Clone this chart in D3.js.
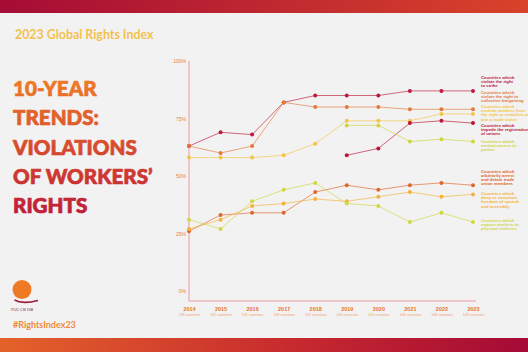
<!DOCTYPE html>
<html><head><meta charset="utf-8">
<script src="https://cdn.jsdelivr.net/npm/d3@7"></script>
<style>
html,body{margin:0;padding:0;background:#f2f2f2;}
svg{display:block;}
</style></head>
<body>
<svg id="c" width="528" height="352"></svg>
<script>
const years = [2014,2015,2016,2017,2018,2019,2020,2021,2022,2023];
const countryCounts = ["139 countries","141 countries","141 countries","139 countries","142 countries","145 countries","144 countries","149 countries","148 countries","149 countries"];
const yTicks = [0,25,50,75,100];

const strike      = [63,69,68,82,85,85,85,87,87,87];
const bargaining  = [63,60,63,82,80,80,80,79,79,79];
const exclude     = [58,58,58,59,64,74,74,74,77,77];
const registration= [null,null,null,null,null,59,62,73,74,73];
const justice     = [null,null,null,null,null,72,72,65,66,65];
const arrest      = [26,33,34,34,43,46,44,46,47,46];
const speech      = [27,31,37,38,40,39,41,43,41,42];
const violence    = [31,27,39,44,47,38,37,30,34,30];

const seriesNames = ["strike","bargaining","exclude","registration","justice","arrest","speech","violence"];
const seriesValues = [strike,bargaining,exclude,registration,justice,arrest,speech,violence];
const seriesColors = ["#be1a3e","#e4793a","#f4c447","#bb1638","#cdd63c","#e1662c","#f4b23a","#d0d840"];
const legendLabels = [
  ["Countries which","violate the right","to strike"],
  ["Countries which","violate the right to","collective bargaining"],
  ["Countries which","exclude workers from","the right to establish or","join a trade union"],
  ["Countries which","impede the registration","of unions"],
  ["Countries which","restrict access to","justice"],
  ["Countries which","arbitrarily arrest","and detain trade","union members"],
  ["Countries which","deny or constrain","freedom of speech","and assembly"],
  ["Countries which","expose workers to","physical violence"]
];
const legendTop = [79,93.5,108,127,142.5,172.5,195,221.5];

const svg = d3.select("#c");
const defs = svg.append("defs");
const g1 = defs.append("linearGradient").attr("id","topbar");
g1.append("stop").attr("offset","0%").attr("stop-color","#a50c36");
g1.append("stop").attr("offset","100%").attr("stop-color","#d8432a");
const g2 = defs.append("linearGradient").attr("id","botbar");
g2.append("stop").attr("offset","0%").attr("stop-color","#e4622a");
g2.append("stop").attr("offset","55%").attr("stop-color","#c72a2e");
g2.append("stop").attr("offset","100%").attr("stop-color","#a50a36");
const g3 = defs.append("linearGradient").attr("id","title")
  .attr("gradientUnits","userSpaceOnUse").attr("x1",0).attr("y1",80).attr("x2",0).attr("y2",215);
g3.append("stop").attr("offset","0%").attr("stop-color","#ee7a26");
g3.append("stop").attr("offset","100%").attr("stop-color","#bf1c36");

svg.append("rect").attr("width",528).attr("height",352).attr("fill","#f2f2f2");
svg.append("rect").attr("x",0).attr("y",0).attr("width",528).attr("height",13).attr("fill","url(#topbar)");
svg.append("rect").attr("x",0).attr("y",338).attr("width",528).attr("height",14).attr("fill","url(#botbar)");

svg.append("text").attr("x",15).attr("y",39).attr("fill","#f2c14e")
  .style("font-family","Lato").style("font-weight",700).style("font-size","12.4px")
  .text("2023 Global Rights Index");

const titleLines = ["10-YEAR","TRENDS:","VIOLATIONS","OF WORKERS’","RIGHTS"];
svg.append("g").selectAll("text").data(titleLines).join("text")
  .attr("x",13).attr("y",(d,i)=>96+i*29.3)
  .attr("fill","url(#title)").attr("stroke","url(#title)").attr("stroke-width",0.7).attr("stroke-linejoin","round")
  .style("font-family","Lato").style("font-weight",900).style("font-size","20.6px")
  .text(d=>d);

// logo
svg.append("circle").attr("cx",22).attr("cy",289.5).attr("r",9.5).attr("fill","#ee7a26");
svg.append("path").attr("d","M14.5,300 Q22,304.5 38,300.5").attr("fill","none").attr("stroke","#9c1a3a").attr("stroke-width",1.6);
svg.append("text").attr("x",22).attr("y",310.5).attr("text-anchor","middle").attr("fill","#7a1a3a")
  .style("font-family","Liberation Sans").style("font-size","3.6px").text("ITUC CSI IGB");
svg.append("text").attr("x",13).attr("y",328).attr("fill","#ee8a3a")
  .style("font-family","Lato").style("font-weight",700).style("font-size","9px").text("#RightsIndex23");

const x = d3.scalePoint().domain(years).range([189,473]);
const y = d3.scaleLinear().domain([0,100]).range([291,61]);

// axis lines
svg.append("line").attr("x1",189).attr("x2",189).attr("y1",61).attr("y2",301).attr("stroke","#ec9aa2").attr("stroke-width",1);
svg.append("line").attr("x1",189).attr("x2",476).attr("y1",301).attr("y2",301).attr("stroke","#ec9aa2").attr("stroke-width",1);

const yAxis = svg.append("g").attr("transform","translate(189,0)")
  .call(d3.axisLeft(y).tickValues(yTicks).tickSize(0).tickPadding(3).tickFormat(d=>d+"%"));
yAxis.select(".domain").remove();
yAxis.selectAll("text").attr("fill","#e8803a").style("font-family","Liberation Sans").style("font-size","5px");

const xAxis = svg.append("g").attr("transform","translate(0,301)")
  .call(d3.axisBottom(x).tickSize(0).tickPadding(6));
xAxis.select(".domain").remove();
xAxis.selectAll("text").attr("fill","#e8742e").style("font-family","Liberation Sans").style("font-weight","bold").style("font-size","5.5px");
xAxis.selectAll(".tick").append("text").attr("y",14.5).attr("fill","#efa070").attr("text-anchor","middle")
  .style("font-family","Liberation Sans").style("font-size","3.6px")
  .text((d,i)=>countryCounts[i]);

const line = d3.line().defined(d=>d!=null).x((d,i)=>x(years[i])).y(d=>y(d));
const plot = svg.append("g");
seriesValues.forEach((vals,k)=>{
  plot.append("path").attr("d",line(vals)).attr("fill","none")
    .attr("stroke",seriesColors[k]).attr("stroke-opacity",0.65).attr("stroke-width",1);
});
seriesValues.forEach((vals,k)=>{
  plot.append("g").selectAll("circle").data(vals.map((v,i)=>({v,i})).filter(d=>d.v!=null)).join("circle")
    .attr("cx",d=>x(years[d.i])).attr("cy",d=>y(d.v)).attr("r",2).attr("fill",seriesColors[k]);
});

// legend
const leg = svg.append("g");
legendLabels.forEach((lines,k)=>{
  const t = leg.append("text").attr("x",481).attr("y",legendTop[k]).attr("fill",seriesColors[k])
    .style("font-family","Liberation Sans").style("font-weight","bold").style("font-size","4.3px");
  lines.forEach((l,j)=>t.append("tspan").attr("x",481).attr("dy",j?4.2:0).text(l));
});
</script>
</body></html>
